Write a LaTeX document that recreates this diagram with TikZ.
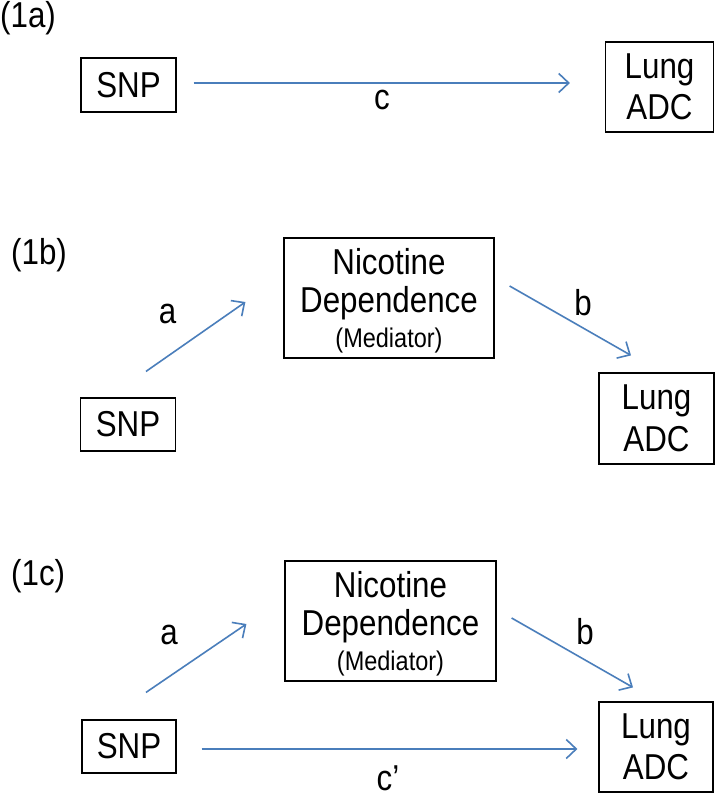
\documentclass[tikz,border=0pt]{standalone}
\usepackage{fontspec}
\setmainfont{Liberation Sans}[FakeStretch=0.87]
\usetikzlibrary{arrows.meta}
\definecolor{arrowblue}{RGB}{74,126,187}
\begin{document}
\begin{tikzpicture}[x=1pt,y=-1pt,
  box/.style={draw=black, line width=1.2pt, inner sep=0pt, align=center,
              font=\fontsize{36}{41.5}\selectfont},
  txt/.style={inner sep=0pt, font=\fontsize{36}{40}\selectfont},
  small/.style={inner sep=0pt, font=\fontsize{27}{30}\selectfont},
  arr/.style={draw=arrowblue, line width=1.6pt,
              -{Straight Barb[length=10pt,width=19pt,line width=1.6pt]}},
]
\useasboundingbox (0,0) rectangle (718,797);
\fill[white] (0,0) rectangle (718,797);

% ---------------- (1a) ----------------
\node[txt, anchor=base west] (labA) at (0,27.5) {(1a)};
\node[box, minimum width=95pt, minimum height=54pt] (snpA) at (128.5,85) {SNP};
\node[box, minimum width=108pt, minimum height=90pt] (lungA) at (659.5,87) {Lung\\ADC};
\draw[arr] ([shift={(17,-2)}]snpA.east) -- ([shift={(-35,-4)}]lungA.west);
\node[txt, anchor=base west] (cA) at (374,110) {c};

% ---------------- (1b) ----------------
\node[txt, anchor=base west] (labB) at (11,264) {(1b)};
\node[box, minimum width=210pt, minimum height=120pt] (nicB) at (389,298) {};
\node[txt, anchor=base] (nicB1) at ([shift={(0,37)}]nicB.north) {Nicotine};
\node[txt, anchor=base] (nicB2) at ([shift={(0,75)}]nicB.north) {Dependence};
\node[small, anchor=base] (nicB3) at ([shift={(0,110)}]nicB.north) {(Mediator)};
\node[box, minimum width=95pt, minimum height=53pt] (snpB) at (128,424.5) {SNP};
\node[box, minimum width=115pt, minimum height=91pt] (lungB) at (656.5,418.5) {Lung\\ADC};
\draw[arr] ([shift={(18,-26)}]snpB.north) -- ([shift={(-38,4)}]nicB.west);
\draw[arr] ([shift={(15,-12)}]nicB.east) -- ([shift={(-25.5,-17)}]lungB.north);
\node[txt, anchor=base] (aB) at (167.5,323) {a};
\node[txt, anchor=base] (bB) at (583,315) {b};

% ---------------- (1c) ----------------
\node[txt, anchor=base west] (labC) at (11,585) {(1c)};
\node[box, minimum width=211pt, minimum height=120pt] (nicC) at (390.5,621) {};
\node[txt, anchor=base] (nicC1) at ([shift={(0,37)}]nicC.north) {Nicotine};
\node[txt, anchor=base] (nicC2) at ([shift={(0,75)}]nicC.north) {Dependence};
\node[small, anchor=base] (nicC3) at ([shift={(0,110)}]nicC.north) {(Mediator)};
\node[box, minimum width=94pt, minimum height=53pt] (snpC) at (129,746.5) {SNP};
\node[box, minimum width=114pt, minimum height=90pt] (lungC) at (656,747) {Lung\\ADC};
\draw[arr] ([shift={(17,-27)}]snpC.north) -- ([shift={(-38,3)}]nicC.west);
\draw[arr] ([shift={(15,-3)}]nicC.east) -- ([shift={(-23,-14)}]lungC.north);
\draw[arr] ([shift={(25,2.5)}]snpC.east) -- ([shift={(-21,2)}]lungC.west);
\node[txt, anchor=base] (aC) at (169,644) {a};
\node[txt, anchor=base] (bC) at (585,644) {b};
\node[txt, anchor=base west] (cC) at (376.5,790.5) {c’};
\end{tikzpicture}
\end{document}
